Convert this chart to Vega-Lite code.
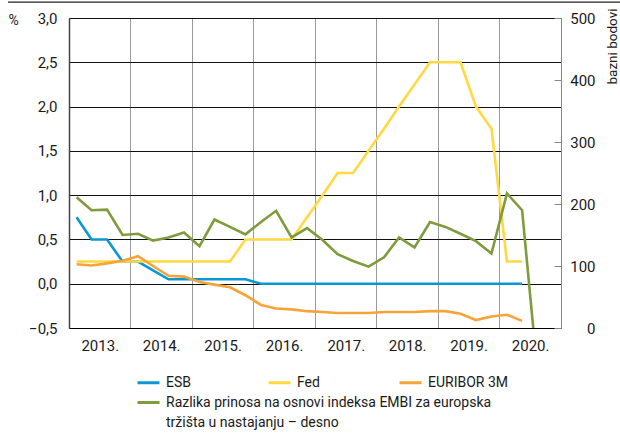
{
  "$schema": "https://vega.github.io/schema/vega-lite/v6.json",
  "width": 492,
  "height": 310,
  "autosize": {"type": "none"},
  "padding": {"left": 69, "top": 18, "right": 59, "bottom": 113},
  "background": "white",
  "config": {
    "font": "Roboto, Liberation Sans, sans-serif",
    "view": {"stroke": null}
  },
  "datasets": {
    "left": [
      {"date": "2013-02-15", "series": "ESB", "value": 0.75},
      {"date": "2013-05-15", "series": "ESB", "value": 0.5},
      {"date": "2013-08-15", "series": "ESB", "value": 0.5},
      {"date": "2013-11-15", "series": "ESB", "value": 0.25},
      {"date": "2014-02-15", "series": "ESB", "value": 0.25},
      {"date": "2014-05-15", "series": "ESB", "value": 0.15},
      {"date": "2014-08-15", "series": "ESB", "value": 0.05},
      {"date": "2014-11-15", "series": "ESB", "value": 0.05},
      {"date": "2015-02-15", "series": "ESB", "value": 0.05},
      {"date": "2015-05-15", "series": "ESB", "value": 0.05},
      {"date": "2015-08-15", "series": "ESB", "value": 0.05},
      {"date": "2015-11-15", "series": "ESB", "value": 0.05},
      {"date": "2016-02-15", "series": "ESB", "value": 0},
      {"date": "2016-05-15", "series": "ESB", "value": 0},
      {"date": "2016-08-15", "series": "ESB", "value": 0},
      {"date": "2016-11-15", "series": "ESB", "value": 0},
      {"date": "2017-02-15", "series": "ESB", "value": 0},
      {"date": "2017-05-15", "series": "ESB", "value": 0},
      {"date": "2017-08-15", "series": "ESB", "value": 0},
      {"date": "2017-11-15", "series": "ESB", "value": 0},
      {"date": "2018-02-15", "series": "ESB", "value": 0},
      {"date": "2018-05-15", "series": "ESB", "value": 0},
      {"date": "2018-08-15", "series": "ESB", "value": 0},
      {"date": "2018-11-15", "series": "ESB", "value": 0},
      {"date": "2019-02-15", "series": "ESB", "value": 0},
      {"date": "2019-05-15", "series": "ESB", "value": 0},
      {"date": "2019-08-15", "series": "ESB", "value": 0},
      {"date": "2019-11-15", "series": "ESB", "value": 0},
      {"date": "2020-02-15", "series": "ESB", "value": 0},
      {"date": "2020-05-15", "series": "ESB", "value": 0},
      {"date": "2013-02-15", "series": "Fed", "value": 0.25},
      {"date": "2013-05-15", "series": "Fed", "value": 0.25},
      {"date": "2013-08-15", "series": "Fed", "value": 0.25},
      {"date": "2013-11-15", "series": "Fed", "value": 0.25},
      {"date": "2014-02-15", "series": "Fed", "value": 0.25},
      {"date": "2014-05-15", "series": "Fed", "value": 0.25},
      {"date": "2014-08-15", "series": "Fed", "value": 0.25},
      {"date": "2014-11-15", "series": "Fed", "value": 0.25},
      {"date": "2015-02-15", "series": "Fed", "value": 0.25},
      {"date": "2015-05-15", "series": "Fed", "value": 0.25},
      {"date": "2015-08-15", "series": "Fed", "value": 0.25},
      {"date": "2015-11-15", "series": "Fed", "value": 0.5},
      {"date": "2016-02-15", "series": "Fed", "value": 0.5},
      {"date": "2016-05-15", "series": "Fed", "value": 0.5},
      {"date": "2016-08-15", "series": "Fed", "value": 0.5},
      {"date": "2016-11-15", "series": "Fed", "value": 0.75},
      {"date": "2017-02-15", "series": "Fed", "value": 1.0},
      {"date": "2017-05-15", "series": "Fed", "value": 1.25},
      {"date": "2017-08-15", "series": "Fed", "value": 1.25},
      {"date": "2017-11-15", "series": "Fed", "value": 1.5},
      {"date": "2018-02-15", "series": "Fed", "value": 1.75},
      {"date": "2018-05-15", "series": "Fed", "value": 2.0},
      {"date": "2018-08-15", "series": "Fed", "value": 2.25},
      {"date": "2018-11-15", "series": "Fed", "value": 2.5},
      {"date": "2019-02-15", "series": "Fed", "value": 2.5},
      {"date": "2019-05-15", "series": "Fed", "value": 2.5},
      {"date": "2019-08-15", "series": "Fed", "value": 2.0},
      {"date": "2019-11-15", "series": "Fed", "value": 1.75},
      {"date": "2020-02-15", "series": "Fed", "value": 0.25},
      {"date": "2020-05-15", "series": "Fed", "value": 0.25},
      {"date": "2013-02-15", "series": "EURIBOR 3M", "value": 0.22},
      {"date": "2013-05-15", "series": "EURIBOR 3M", "value": 0.205},
      {"date": "2013-08-15", "series": "EURIBOR 3M", "value": 0.23},
      {"date": "2013-11-15", "series": "EURIBOR 3M", "value": 0.26},
      {"date": "2014-02-15", "series": "EURIBOR 3M", "value": 0.31},
      {"date": "2014-05-15", "series": "EURIBOR 3M", "value": 0.2},
      {"date": "2014-08-15", "series": "EURIBOR 3M", "value": 0.09},
      {"date": "2014-11-15", "series": "EURIBOR 3M", "value": 0.08},
      {"date": "2015-02-15", "series": "EURIBOR 3M", "value": 0.02},
      {"date": "2015-05-15", "series": "EURIBOR 3M", "value": -0.01},
      {"date": "2015-08-15", "series": "EURIBOR 3M", "value": -0.04},
      {"date": "2015-11-15", "series": "EURIBOR 3M", "value": -0.13},
      {"date": "2016-02-15", "series": "EURIBOR 3M", "value": -0.24},
      {"date": "2016-05-15", "series": "EURIBOR 3M", "value": -0.28},
      {"date": "2016-08-15", "series": "EURIBOR 3M", "value": -0.29},
      {"date": "2016-11-15", "series": "EURIBOR 3M", "value": -0.31},
      {"date": "2017-02-15", "series": "EURIBOR 3M", "value": -0.32},
      {"date": "2017-05-15", "series": "EURIBOR 3M", "value": -0.33},
      {"date": "2017-08-15", "series": "EURIBOR 3M", "value": -0.33},
      {"date": "2017-11-15", "series": "EURIBOR 3M", "value": -0.33},
      {"date": "2018-02-15", "series": "EURIBOR 3M", "value": -0.32},
      {"date": "2018-05-15", "series": "EURIBOR 3M", "value": -0.32},
      {"date": "2018-08-15", "series": "EURIBOR 3M", "value": -0.32},
      {"date": "2018-11-15", "series": "EURIBOR 3M", "value": -0.31},
      {"date": "2019-02-15", "series": "EURIBOR 3M", "value": -0.31},
      {"date": "2019-05-15", "series": "EURIBOR 3M", "value": -0.34},
      {"date": "2019-08-15", "series": "EURIBOR 3M", "value": -0.41},
      {"date": "2019-11-15", "series": "EURIBOR 3M", "value": -0.37},
      {"date": "2020-02-15", "series": "EURIBOR 3M", "value": -0.35},
      {"date": "2020-05-15", "series": "EURIBOR 3M", "value": -0.42}
    ],
    "right": [
      {"date": "2013-02-15", "series": "EMBI", "value": 211},
      {"date": "2013-05-15", "series": "EMBI", "value": 190},
      {"date": "2013-08-15", "series": "EMBI", "value": 191},
      {"date": "2013-11-15", "series": "EMBI", "value": 150},
      {"date": "2014-02-15", "series": "EMBI", "value": 152},
      {"date": "2014-05-15", "series": "EMBI", "value": 141},
      {"date": "2014-08-15", "series": "EMBI", "value": 146},
      {"date": "2014-11-15", "series": "EMBI", "value": 154},
      {"date": "2015-02-15", "series": "EMBI", "value": 132},
      {"date": "2015-05-15", "series": "EMBI", "value": 175},
      {"date": "2015-08-15", "series": "EMBI", "value": 163},
      {"date": "2015-11-15", "series": "EMBI", "value": 151},
      {"date": "2016-02-15", "series": "EMBI", "value": 171},
      {"date": "2016-05-15", "series": "EMBI", "value": 189},
      {"date": "2016-08-15", "series": "EMBI", "value": 146},
      {"date": "2016-11-15", "series": "EMBI", "value": 161},
      {"date": "2017-02-15", "series": "EMBI", "value": 142},
      {"date": "2017-05-15", "series": "EMBI", "value": 119},
      {"date": "2017-08-15", "series": "EMBI", "value": 108},
      {"date": "2017-11-15", "series": "EMBI", "value": 99},
      {"date": "2018-02-15", "series": "EMBI", "value": 114},
      {"date": "2018-05-15", "series": "EMBI", "value": 146},
      {"date": "2018-08-15", "series": "EMBI", "value": 130},
      {"date": "2018-11-15", "series": "EMBI", "value": 171},
      {"date": "2019-02-15", "series": "EMBI", "value": 163},
      {"date": "2019-05-15", "series": "EMBI", "value": 152},
      {"date": "2019-08-15", "series": "EMBI", "value": 140},
      {"date": "2019-11-15", "series": "EMBI", "value": 120},
      {"date": "2020-02-15", "series": "EMBI", "value": 217},
      {"date": "2020-05-15", "series": "EMBI", "value": 190},
      {"date": "2020-08-15", "series": "EMBI", "value": -74}
    ]
  },
  "layer": [
    {
      "data": {"name": "left"},
      "mark": {"type": "line", "strokeWidth": 2.6},
      "encoding": {
        "x": {
          "field": "date",
          "type": "temporal",
          "scale": {"type": "utc", "domain": [{"year": 2013, "month": 1, "date": 1, "utc": true}, {"year": 2021, "month": 1, "date": 1, "utc": true}]},
          "axis": {
            "title": null,
            "tickCount": {"interval": "year", "step": 1},
            "labelExpr": "utcyear(datum.value) < 2021 ? utcFormat(datum.value, '%Y') + '.' : ''",
            "labelOffset": 30.75,
            "labelPadding": 10,
            "labelFontSize": 15,
            "labelColor": "#1a1a1a",
            "labelOverlap": false,
            "labelFlush": false,
            "labelBound": false,
            "ticks": false,
            "domainColor": "#000000",
            "domainWidth": 1.2,
            "grid": true,
            "gridColor": "#9a9a9a",
            "gridWidth": 1
          }
        },
        "y": {
          "field": "value",
          "type": "quantitative",
          "scale": {"domain": [-0.5, 3]},
          "axis": {
            "title": "%",
            "titleAngle": 0,
            "titleX": -56,
            "titleY": 2,
            "titleAlign": "center",
            "titleBaseline": "middle",
            "titleFontSize": 14,
            "titleFontWeight": "normal",
            "titleColor": "#1a1a1a",
            "values": [-0.5, 0, 0.5, 1, 1.5, 2, 2.5, 3],
            "labelExpr": "replace(format(datum.value, '.1f'), '.', ',')",
            "labelFontSize": 15,
            "labelColor": "#1a1a1a",
            "labelPadding": 12,
            "ticks": false,
            "domainColor": "#444444",
            "domainWidth": 1.5,
            "grid": true,
            "gridColor": "#111111",
            "gridWidth": 1
          }
        },
        "color": {
          "field": "series",
          "type": "nominal",
          "scale": {"domain": ["ESB", "Fed", "EURIBOR 3M"], "range": ["#0b97d4", "#ffd940", "#f6a43a"]},
          "legend": {
            "title": null,
            "orient": "none",
            "legendX": 67,
            "legendY": 352,
            "direction": "horizontal",
            "columns": 3,
            "gridAlign": "all",
            "columnPadding": 15,
            "symbolType": "stroke",
            "symbolSize": 484,
            "symbolStrokeWidth": 3,
            "labelFontSize": 14,
            "labelOffset": 5,
            "labelColor": "#1a1a1a",
            "padding": 0
          }
        }
      }
    },
    {
      "data": {"name": "right"},
      "mark": {"type": "line", "strokeWidth": 2.6, "clip": true},
      "encoding": {
        "x": {"field": "date", "type": "temporal"},
        "y": {
          "field": "value",
          "type": "quantitative",
          "scale": {"domain": [0, 500]},
          "axis": {
            "orient": "right",
            "title": "bazni bodovi",
            "titleAngle": 270,
            "titleAlign": "right",
            "titleBaseline": "middle",
            "titleX": 51,
            "titleY": -10,
            "titleFontSize": 13.5,
            "titleFontWeight": "normal",
            "titleColor": "#1a1a1a",
            "values": [0, 100, 200, 300, 400, 500],
            "format": "d",
            "labelAlign": "right",
            "labelPadding": 41,
            "labelFontSize": 15,
            "labelColor": "#1a1a1a",
            "tickSize": -7,
            "tickColor": "#888888",
            "domainColor": "#888888",
            "grid": false
          }
        },
        "color": {
          "field": "series",
          "type": "nominal",
          "scale": {"domain": ["EMBI"], "range": ["#7e9c3c"]},
          "legend": {
            "title": null,
            "orient": "none",
            "legendX": 67,
            "legendY": 372,
            "symbolType": "stroke",
            "symbolSize": 484,
            "symbolStrokeWidth": 3,
            "labelFontSize": 14,
            "labelOffset": 5,
            "labelLimit": 600,
            "labelColor": "#1a1a1a",
            "padding": 0,
            "labelExpr": "['Razlika prinosa na osnovi indeksa EMBI za europska', 'tržišta u nastajanju – desno']",
            "encode": {"labels": {"update": {"lineHeight": {"value": 20}}}}
          }
        }
      }
    },
    {
      "data": {"values": [{}]},
      "mark": {"type": "rule", "clip": false, "color": "#222222", "strokeWidth": 1.2},
      "encoding": {
        "x": {"datum": {"year": 2012, "month": 1, "date": 5, "utc": true}, "type": "temporal"},
        "x2": {"datum": {"year": 2021, "month": 12, "date": 20, "utc": true}},
        "y": {"datum": 3.18, "type": "quantitative", "scale": {"domain": [-0.5, 3]}, "axis": null}
      }
    }
  ],
  "resolve": {"scale": {"y": "independent", "color": "independent"}}
}
